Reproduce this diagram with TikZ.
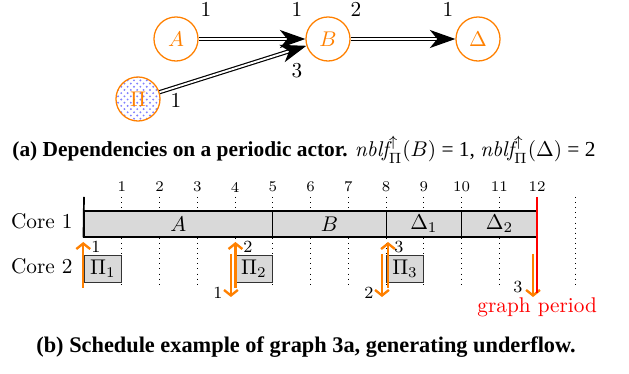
\documentclass[tikz,border=0pt]{standalone}
\usepackage{fontspec}
\usetikzlibrary{arrows.meta,patterns}
\newfontfamily\capfont{Liberation Serif}
\definecolor{actcol}{RGB}{255,128,0}
\definecolor{taskgray}{RGB}{217,217,217}
\tikzset{
  actor/.style={circle,draw=actcol,text=actcol,line width=0.6pt,minimum size=20.7pt,inner sep=0pt},
  dep/.style={draw=black,double=white,double distance=0.9pt,line width=0.55pt,-{Stealth[length=12pt,width=8.5pt,inset=3.5pt]}},
  rate/.style={font=\normalsize,inner sep=0pt},
  task/.style={draw=black,fill=taskgray,line width=0.5pt,minimum height=12.2pt,inner sep=0pt},
  pitask/.style={draw=black!80,fill=taskgray,line width=0.4pt,minimum height=12.7pt,minimum width=17.75pt,inner sep=0pt},
  ticklab/.style={font=\scriptsize,inner sep=0pt},
  gridline/.style={dotted,line width=0.4pt},
  token/.style={draw=actcol,line width=1.1pt,-{Straight Barb[length=2.6pt,width=6.5pt]}},
  toklabel/.style={font=\footnotesize,inner sep=0pt},
  captext/.style={font=\capfont\fontsize{10.5}{12}\selectfont,inner sep=0pt,anchor=base},
}
\begin{document}
\begin{tikzpicture}[x=0.47pt,y=-0.47pt]
\useasboundingbox (0,0) rectangle (629,374);
% ---------- graph ----------
\node[actor] (A) at (176,39) {$A$};
\node[actor] (B) at (328,39) {$B$};
\node[actor] (D) at (478,39) {$\Delta$};
\node[actor,pattern=crosshatch dots,pattern color=blue!50] (P) at (138,99) {$\Pi$};
\draw[dep] (A) -- (B);
\draw[dep] (B) -- (D);
\draw[dep] (P) -- (B);
\node[rate] (r1) at (206,9) {1};
\node[rate] (r2) at (297,9) {1};
\node[rate] (r3) at (356,9) {2};
\node[rate] (r4) at (448,9) {1};
\node[rate] (r5) at (297,71) {3};
\node[rate] (r6) at (176,100) {1};
\node[captext,font=\capfont\fontsize{10.05}{12}\selectfont] (capa) at (304,157) {\textbf{(a) Dependencies on a periodic actor.} $\mathit{nblf}^{\uparrow}_{\Pi}(B)$ = 1, $\mathit{nblf}^{\uparrow}_{\Pi}(\Delta)$ = 2};
% ---------- schedule ----------
\node[anchor=base east,inner sep=0pt] (c1) at (73,229) {Core 1};
\node[anchor=base east,inner sep=0pt] (c2) at (73,274) {Core 2};
\begin{scope}[shift={(84,0)},x=17.75pt]
  \foreach \t in {1,2,3,4,5,6,7,8,9,10,11,13} \draw[gridline] (\t,197) -- (\t,287);
  \foreach \t in {1,2,3,4,5,6,7,8,9,10,11,12} \node[ticklab] (tk\t) at (\t,187) {\t};
  \node[task,minimum width=88.75pt] (tA) at (2.5,224) {$A$};
  \node[task,minimum width=53.25pt] (tB) at (6.5,224) {$B$};
  \node[task,minimum width=35.5pt] (tD1) at (9,224) {$\Delta_1$};
  \node[task,minimum width=35.5pt] (tD2) at (11,224) {$\Delta_2$};
  \coordinate (axtop) at (0,197);
  \draw[line width=0.8pt] (axtop) -- (tA.south west);
  \node[pitask] (p1) at (0.5,268.5) {$\Pi_1$};
  \node[pitask] (p2) at (4.5,268.5) {$\Pi_2$};
  \node[pitask] (p3) at (8.5,268.5) {$\Pi_3$};
  % tokens
  \coordinate (u0s) at (-0.02,288); \coordinate (u0e) at (-0.02,242);
  \draw[token] (u0s) -- (u0e);
  \coordinate (u4s) at (4.01,288); \coordinate (u4e) at (4.01,242);
  \draw[token] (u4s) -- (u4e);
  \coordinate (d4s) at (3.89,254); \coordinate (d4e) at (3.89,297);
  \draw[token] (d4s) -- (d4e);
  \coordinate (u8s) at (8.05,288); \coordinate (u8e) at (8.05,242);
  \draw[token] (u8s) -- (u8e);
  \coordinate (d8s) at (7.89,254); \coordinate (d8e) at (7.89,297);
  \draw[token] (d8s) -- (d8e);
  \coordinate (d12s) at (11.89,254); \coordinate (d12e) at (11.89,297);
  \draw[token] (d12s) -- (d12e);
  % period
  \coordinate (pertop) at (12,197); \coordinate (perbot) at (12,293);
  \draw[red,line width=1pt] (pertop) -- (perbot);
  \node[text=red,anchor=base,inner sep=0pt] (gp) at (12,313) {graph period};
\end{scope}
\node[toklabel] (l1) at (96,247) {1};
\node[toklabel] (l2) at (248,247) {2};
\node[toklabel] (l3) at (218,293) {1};
\node[toklabel] (l4) at (399,247) {3};
\node[toklabel] (l5) at (369,293) {2};
\node[toklabel] (l6) at (518,287) {3};
\node[captext] (capb) at (306,353) {\textbf{(b) Schedule example of graph 3a, generating underflow.}};
\end{tikzpicture}
\end{document}
